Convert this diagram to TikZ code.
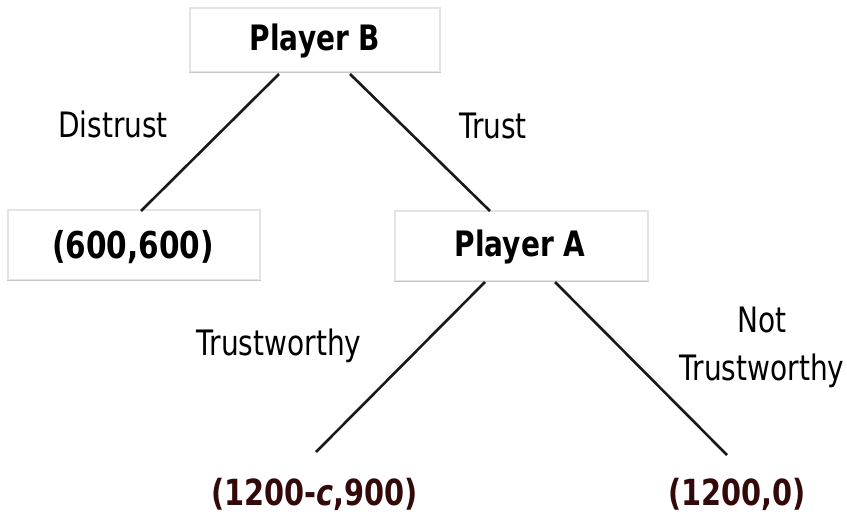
\documentclass[tikz,border=0pt]{standalone}
\usepackage{fontspec}
\setmainfont{DejaVu Sans}[FakeStretch=0.8]
\definecolor{boxline}{HTML}{E4E4E4}
\definecolor{boxshade}{HTML}{C8C8C8}
\definecolor{payoff}{HTML}{33090A}
\begin{document}
\begin{tikzpicture}[x=1pt,y=-1pt,
  box/.style={draw=boxline, line width=1.2pt, fill=white, rectangle, inner sep=0pt},
  title/.style={anchor=base, inner sep=0pt, font=\fontsize{35}{40}\selectfont\bfseries},
  pay/.style={anchor=base, inner sep=0pt, font=\fontsize{36}{40}\selectfont\bfseries, text=payoff},
  lab/.style={anchor=base, inner sep=0pt, font=\fontsize{35}{40}\selectfont},
  edge/.style={line width=2.6pt, black!90}]
\useasboundingbox (0,0) rectangle (847,514);
% boxes
\node[box, minimum width=250, minimum height=64] (boxB) at (315,40) {};
\draw[boxshade, line width=1.6pt] (boxB.south west) -- (boxB.south east);
\node[box, minimum width=252, minimum height=70] (boxL) at (134,245) {};
\draw[boxshade, line width=1.6pt] (boxL.south west) -- (boxL.south east);
\node[box, minimum width=253, minimum height=70] (boxA) at (521.5,246) {};
\draw[boxshade, line width=1.6pt] (boxA.south west) -- (boxA.south east);
% texts
\node[title] (tB) at (315,50) {Player B};
\node[title, font=\fontsize{37}{40}\selectfont\bfseries] (tL) at (133,258) {(600,600)};
\node[title] (tA) at (520,256) {Player A};
\node[pay] (pTW) at (314.5,505) {(1200-\textit{c},900)};
\node[pay] (pNT) at (737,505) {(1200,0)};
% labels
\node[lab] (lD) at (113,137) {Distrust};
\node[lab] (lT) at (493,138) {Trust};
\node[lab] (lTW) at (279,355) {Trustworthy};
\node[lab] (lNot) at (762,332) {Not};
\node[lab] (lNTW) at (762,380) {Trustworthy};
% edge end coordinates
\coordinate (b1) at (279,74);
\coordinate (b2) at (350,74);
\coordinate (l1) at (141,211);
\coordinate (a1) at (490,211);
\coordinate (a2) at (485,282);
\coordinate (a3) at (555,282);
\coordinate (e1) at (316,452);
\coordinate (e2) at (727,455);
\draw[edge] (b1) -- (l1);
\draw[edge] (b2) -- (a1);
\draw[edge] (a2) -- (e1);
\draw[edge] (a3) -- (e2);
\end{tikzpicture}
\end{document}
